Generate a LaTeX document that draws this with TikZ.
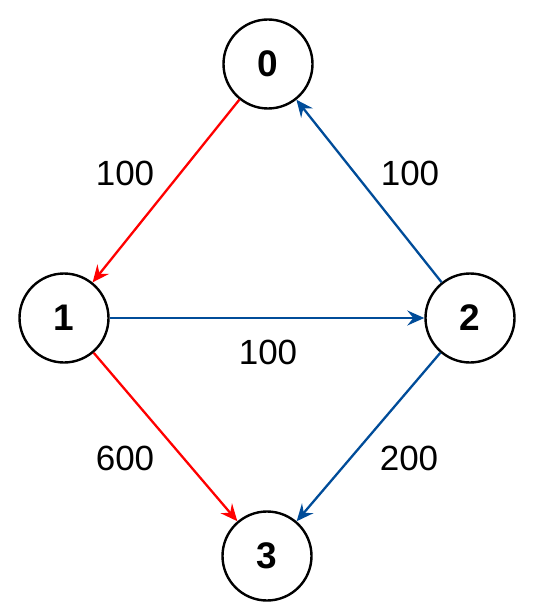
\documentclass[tikz,border=0pt]{standalone}
\usepackage{fontspec}
\setmainfont{Liberation Sans}
\usepackage{xcolor}
\usetikzlibrary{arrows.meta}
\definecolor{edgeblue}{RGB}{0,76,153}
\definecolor{edgered}{RGB}{255,0,0}

\begin{document}
\begin{tikzpicture}[x=1pt, y=-1pt,
  vertex/.style={circle, draw, line width=2.4pt, minimum size=89pt, inner sep=0pt,
    font=\fontsize{37}{42}\selectfont\bfseries},
  weight/.style={font=\fontsize{35}{40}\selectfont},
  redge/.style={edgered, line width=2.3pt, -{Stealth[length=17pt, width=15pt, inset=6pt]}},
  bedge/.style={edgeblue, line width=2.3pt, -{Stealth[length=17pt, width=15pt, inset=6pt]}}]
\useasboundingbox (0,0) rectangle (549,612);
\node[vertex] (n0) at (268,64) {0};
\node[vertex] (n1) at (64,318) {1};
\node[vertex] (n2) at (470,318) {2};
\node[vertex] (n3) at (267,556) {3};
% edges
\draw[redge] (n0) -- (n1);
\draw[redge] (n1) -- (n3);
\draw[bedge] (n2) -- (n0);
\draw[bedge] (n1) -- (n2);
\draw[bedge] (n2) -- (n3);
% weights
\node[weight] (w01) at (125,173) {100};
\node[weight] (w20) at (410,173) {100};
\node[weight] (w12) at (268,352) {100};
\node[weight] (w13) at (125,458) {600};
\node[weight] (w23) at (409,458) {200};
\end{tikzpicture}
\end{document}
